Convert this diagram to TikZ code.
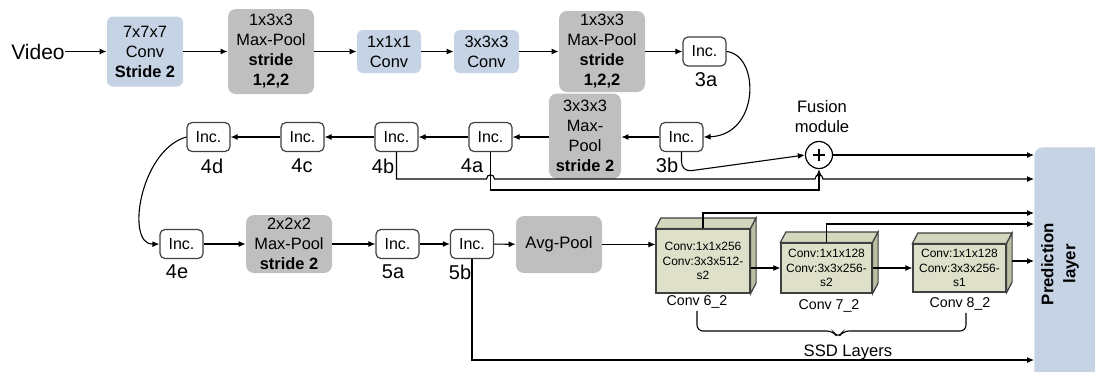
\documentclass[tikz,border=0pt]{standalone}
\usepackage{fontspec}
\setmainfont{Liberation Sans}
\usetikzlibrary{arrows.meta, calc}
\definecolor{convblue}{RGB}{197,211,229}
\definecolor{poolgray}{RGB}{191,191,191}
\definecolor{ssdfront}{RGB}{222,224,202}
\definecolor{ssdtop}{RGB}{212,215,190}
\definecolor{ssdside}{RGB}{186,190,162}
\definecolor{edgegray}{RGB}{64,64,64}

\begin{document}
\begin{tikzpicture}[x=0.5pt, y=-0.5pt,
  conv/.style={fill=convblue, rounded corners=3pt, align=center, inner sep=0pt, font=\fontsize{8.2}{10}\selectfont},
  pool/.style={fill=poolgray, rounded corners=4pt, align=center, inner sep=0pt, font=\fontsize{8.2}{10}\selectfont},
  inc/.style={draw=edgegray, fill=white, rounded corners=2.5pt, line width=0.6pt, minimum width=21.5pt, minimum height=14.5pt, inner sep=0pt, font=\fontsize{8}{9}\selectfont},
  lbl/.style={inner sep=1pt, font=\fontsize{10}{12}\selectfont},
  ssd/.style={draw=edgegray, fill=ssdfront, line width=0.6pt, align=center, inner sep=0pt, font=\fontsize{6}{7.4}\selectfont},
  ssdname/.style={inner sep=1pt, font=\fontsize{7.1}{8.5}\selectfont},
  fusion/.style={draw, circle, line width=0.6pt, minimum size=13.5pt, inner sep=0pt,
    path picture={\draw[line width=1.1pt] ($(path picture bounding box.center)+(-6,0)$) -- ++(12,0)
      ($(path picture bounding box.center)+(0,-6)$) -- ++(0,12);}},
  conn/.style={line width=0.55pt, -{Latex[length=3.5pt,width=3pt]}},
  wire/.style={line width=0.55pt},
]
  \useasboundingbox (0,0) rectangle (1095,371);

  % Prediction layer (runs off the page edge)
  \node[fill=convblue, rounded corners=4pt, minimum width=40pt, minimum height=125pt, anchor=north west, inner sep=0pt] (pred) at (1034,147) {};
  \node[rotate=90, align=center, font=\bfseries\fontsize{8.4}{11}\selectfont] (predlbl) at (1060,264) {Prediction\\layer};

  % First row
  \node[inner sep=0pt, font=\fontsize{10.5}{12}\selectfont] (video) at (38,51.5) {Video};
  \node[conv, minimum width=38pt, minimum height=35pt] (conv1) at (145,51.5) {7x7x7\\Conv\\\textbf{Stride 2}};
  \node[pool, minimum width=43pt, minimum height=42.5pt] (mp1) at (271,51.5) {1x3x3\\Max-Pool\\\textbf{stride}\\\textbf{1,2,2}};
  \node[conv, minimum width=32pt, minimum height=21.5pt] (conv2) at (389,51.5) {1x1x1\\Conv};
  \node[conv, minimum width=32.5pt, minimum height=21.5pt] (conv3) at (486.5,51.5) {3x3x3\\Conv};
  \node[pool, minimum width=43pt, minimum height=40.5pt] (mp2) at (602,51.5) {1x3x3\\Max-Pool\\\textbf{stride}\\\textbf{1,2,2}};
  \node[inc] (i3a) at (704.5,51.5) {Inc.};

  % Second row
  \node[inc] (i3b) at (681.5,137) {Inc.};
  \node[pool, minimum width=36pt, minimum height=42.5pt] (mp3) at (585,136) {3x3x3\\Max-\\Pool\\\textbf{stride 2}};
  \node[inc] (i4a) at (490.5,137) {Inc.};
  \node[inc] (i4b) at (396.5,137) {Inc.};
  \node[inc] (i4c) at (302.5,137) {Inc.};
  \node[inc] (i4d) at (208.5,137) {Inc.};

  % Third row
  \node[inc] (i4e) at (181.5,244) {Inc.};
  \node[pool, minimum width=43pt, minimum height=29pt] (mp4) at (289,244) {2x2x2\\Max-Pool\\\textbf{stride 2}};
  \node[inc] (i5a) at (397.5,244) {Inc.};
  \node[inc] (i5b) at (472,244) {Inc.};
  \node[pool, minimum width=43pt, minimum height=28.5pt, font=\fontsize{8.3}{10}\selectfont] (avg) at (559,244.5) {Avg-Pool};

  % Block names
  \node[lbl] (l3a) at (706,80) {3a};
  \node[lbl] (l3b) at (667,165) {3b};
  \node[lbl] (l4a) at (472,166) {4a};
  \node[lbl] (l4b) at (383,166) {4b};
  \node[lbl] (l4c) at (302,166) {4c};
  \node[lbl] (l4d) at (212,166) {4d};
  \node[lbl] (l4e) at (177,272) {4e};
  \node[lbl] (l5a) at (393,272) {5a};
  \node[lbl] (l5b) at (460,272) {5b};

  % SSD layers
  \node[ssd, minimum width=47pt, minimum height=32pt] (c6) at (703,261) {Conv:1x1x256\\Conv:3x3x512-\\s2};
  \node[ssd, minimum width=45.5pt, minimum height=25pt] (c7) at (826.5,268) {Conv:1x1x128\\Conv:3x3x256-\\s2};
  \node[ssd, minimum width=46.5pt, minimum height=24pt] (c8) at (959.5,268) {Conv:1x1x128\\Conv:3x3x256-\\s1};
  \foreach \s in {c6,c7,c8}{
    \filldraw[fill=ssdtop, draw=edgegray, line width=0.6pt] (\s.north west) -- ++(5.5,-10.5) -- ($(\s.north east)+(5.5,-10.5)$) -- (\s.north east) -- cycle;
    \filldraw[fill=ssdside, draw=edgegray, line width=0.6pt] (\s.north east) -- ++(5.5,-10.5) -- ($(\s.south east)+(5.5,-10.5)$) -- (\s.south east) -- cycle;
  }
  \node[ssdname] (c6lbl) at (697,302) {Conv 6\_2};
  \node[ssdname] (c7lbl) at (829,306) {Conv 7\_2};
  \node[ssdname] (c8lbl) at (960,304) {Conv 8\_2};
  \node[font=\fontsize{8.3}{10}\selectfont] (ssdlbl) at (848,352) {SSD Layers};

  % Fusion
  \node[fusion] (plus) at (819,155) {};
  \node[align=center, font=\fontsize{8.3}{10}\selectfont] (fuslbl) at (822,117) {Fusion\\module};

  % Connections
  \draw[conn] (video) -- (conv1);
  \draw[conn] (conv1) -- (mp1);
  \draw[conn] (mp1) -- (conv2);
  \draw[conn] (conv2) -- (conv3);
  \draw[conn] (conv3) -- (mp2);
  \draw[conn] (mp2) -- (i3a);
  \draw[conn] (i3a.east) .. controls (760,55) and (760,135) .. (i3b.east);
  \draw[conn] (i3b) -- (i3b -| mp3.east);
  \draw[conn] (mp3.west |- i4a) -- (i4a);
  \draw[conn] (i4a) -- (i4b);
  \draw[conn] (i4b) -- (i4c);
  \draw[conn] (i4c) -- (i4d);
  \draw[conn] (i4d.west) .. controls (140,150) and (125,245) .. (i4e.west);
  \draw[conn] (i4e) -- (mp4);
  \draw[conn] (mp4) -- (i5a);
  \draw[conn] (i5a) -- (i5b);
  \draw[conn] (i5b) -- (avg);
  \draw[conn] (avg.east) -- (avg.east -| c6.west);
  \draw[conn] (c6.east |- c7.west) -- (c7.west);
  \draw[conn] (c7) -- (c8);

  % Outputs to the prediction layer
  \draw[conn, rounded corners=5pt] (i3b.south) -- (i3b.south |- 0,172) -- (plus.west);
  \draw[conn] (i4a.south) |- (plus.south |- 0,190) -- (plus.south);
  \draw[conn] (plus.east) -- (plus.east -| pred.west);
  \draw[conn] (i4b.south) |- (486.5,179) .. controls (486.5,173.5) and (494.5,173.5) .. (494.5,179)
    -- (815,179) .. controls (815,173.5) and (823,173.5) .. (823,179) -- (pred.west |- 0,179);
  \draw[conn] (c6.north) |- (pred.west |- 0,213);
  \draw[conn] (c7.north) |- (pred.west |- 0,224);
  \draw[conn] ($(c8.east)+(5.5,-7)$) -- (pred.west |- 0,261);
  \draw[conn] (i5b.south) |- (pred.west |- 0,360);

  % SSD brace
  \draw[wire, rounded corners=3pt] (c6lbl.south) |- (833,331) -- (838,338) -- (843,331) -| (c8lbl.south -| 966,0);
\end{tikzpicture}
\end{document}
